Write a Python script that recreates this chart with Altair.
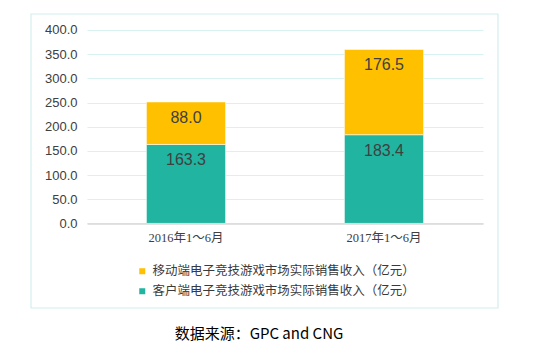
import altair as alt
import pandas as pd

periods = ["2016年1～6月", "2017年1～6月"]
series = ["移动端电子竞技游戏市场实际销售收入（亿元）", "客户端电子竞技游戏市场实际销售收入（亿元）"]
mobile = [88.0, 176.5]
client = [163.3, 183.4]
colors = ["#FFC000", "#21B4A0"]
y_ticks = [0, 50, 100, 150, 200, 250, 300, 350, 400]
source = "数据来源：GPC and CNG"

rows = []
for i, p in enumerate(periods):
    rows.append({"period": p, "series": series[1], "value": client[i], "ord": 0})
    rows.append({"period": p, "series": series[0], "value": mobile[i], "ord": 1})
df = pd.DataFrame(rows)

W, H = 396, 193.4

base = alt.Chart(df).transform_stack(
    stack="value", groupby=["period"], as_=["v0", "v1"],
    sort=[alt.SortField("ord", order="ascending")]
)

yscale = alt.Scale(domain=[0, 400], nice=False)
xscale = alt.Scale(paddingInner=0.6, paddingOuter=0.3)
xaxis = alt.Axis(labelAngle=0, labelFont="Liberation Serif, Noto Sans CJK SC",
                 labelFontSize=12.5, labelColor="#404040", labelPadding=8,
                 ticks=False, domainColor="#d9d9d9", domainWidth=1.5, grid=False)
yaxis = alt.Axis(values=y_ticks, format=".1f", labelFont="Liberation Sans",
                 labelFontSize=13, labelColor="#404040", labelPadding=10,
                 labelOverlap=False, labelFlush=False,
                 ticks=False, domain=False, gridColor="#d8f1f1", gridWidth=1.2)

bars = base.mark_bar(stroke="#ffffff", strokeWidth=1, strokeOpacity=0.6).encode(
    x=alt.X("period:N", sort=periods, title=None, scale=xscale, axis=xaxis),
    y=alt.Y("v1:Q", title=None, scale=yscale, axis=yaxis),
    y2="v0:Q",
    color=alt.Color("series:N", scale=alt.Scale(domain=series, range=colors),
                    legend=alt.Legend(orient="none", legendX=49, legendY=235, title=None,
                                      symbolType="square", symbolSize=36, symbolStrokeWidth=0,
                                      labelFont="Liberation Serif, Noto Sans CJK SC",
                                      labelFontSize=12.5, labelColor="#3a3a3a",
                                      labelLimit=500,
                                      rowPadding=7, labelOffset=4)),
)

labels = base.mark_text(font="Liberation Sans", fontSize=16, color="#404040",
                        baseline="middle", dy=16).encode(
    x=alt.X("period:N", sort=periods, title=None, scale=xscale, axis=xaxis),
    y=alt.Y("v1:Q", title=None, scale=yscale, axis=yaxis),
    text=alt.Text("value:Q", format=".1f"),
)

frame = alt.Chart(pd.DataFrame({"k": [0]})).mark_rect(
    fill=None, stroke="#d3eeee", strokeWidth=1.2
).encode(x=alt.value(-56), x2=alt.value(411), y=alt.value(-16), y2=alt.value(278))

src = alt.Chart(pd.DataFrame({"t": [source]})).mark_text(
    font="Noto Sans CJK SC", fontSize=15, color="#000000", fontWeight="normal",
    align="center", baseline="middle"
).encode(x=alt.value(172), y=alt.value(304), text="t:N")

chart = alt.layer(frame, bars, labels, src).properties(
    width=W, height=H,
    background="white",
    autosize=alt.AutoSizeParams(type="none"),
    padding={"left": 87, "top": 30, "right": 67, "bottom": 133},
).configure_view(strokeWidth=0)

chart.save("out.html", embed_options={"renderer": "svg", "actions": False})
